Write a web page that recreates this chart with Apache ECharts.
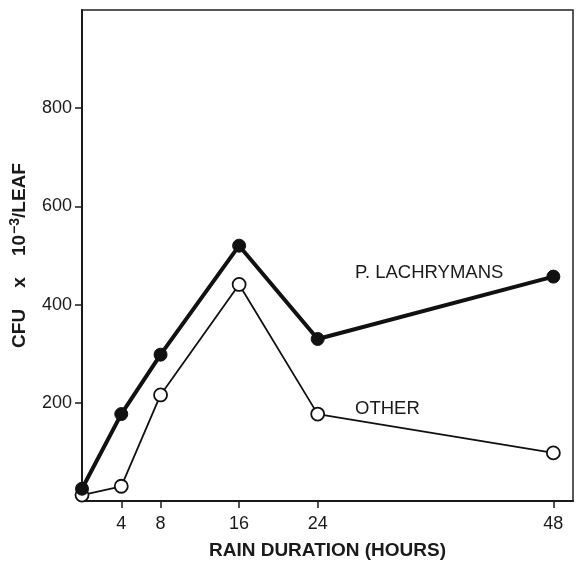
<!DOCTYPE html>
<html><head><meta charset="utf-8">
<script src="https://cdn.jsdelivr.net/npm/echarts@6/dist/echarts.min.js"></script>
<style>html,body{margin:0;padding:0;background:#fff}#c{width:576px;height:561px}</style>
</head><body><div id="c"></div>
<script>
const hours = [0, 4, 8, 16, 24, 48];
const lachrymans = [25, 177, 298, 520, 330, 457];
const other = [12, 30, 216, 441, 177, 98];
const xTicks = [4, 8, 16, 24, 48];
const yTicks = [200, 400, 600, 800];
const seriesNames = ['P. LACHRYMANS', 'OTHER'];

const font = '"Liberation Sans", Arial, sans-serif';
const ink = '#1a1a1a';
const chart = echarts.init(document.getElementById('c'));
chart.setOption({
  animation: false,
  grid: { left: 82, top: 10, right: 3, bottom: 60, containLabel: false, outerBoundsMode: 'none',
          show: true, borderColor: '#222', borderWidth: 1.5 },
  xAxis: {
    type: 'value', min: 0, max: 50,
    name: 'RAIN DURATION (HOURS)', nameLocation: 'middle', nameGap: 40,
    nameTextStyle: { fontFamily: font, fontWeight: 'bold', fontSize: 19, color: ink },
    axisLine: { lineStyle: { color: ink, width: 2 } },
    axisTick: { customValues: xTicks, length: 7, lineStyle: { color: ink, width: 1.5 } },
    axisLabel: { customValues: xTicks, fontFamily: font, fontSize: 18, color: ink, margin: 14 },
    splitLine: { show: false }
  },
  yAxis: {
    type: 'value', min: 0, max: 1000, interval: 200,
    name: '{a|CFU    x    10}{s|−3}{a|/LEAF}', nameLocation: 'middle', nameGap: 50, nameRotate: 90,
    nameTextStyle: { rich: {
      a: { fontFamily: font, fontWeight: 'bold', fontSize: 19, color: ink },
      s: { fontFamily: font, fontWeight: 'bold', fontSize: 14, color: ink, verticalAlign: 'top', padding: [0,0,10,1] }
    } },
    axisLine: { show: true, lineStyle: { color: ink, width: 2 } },
    axisTick: { customValues: yTicks, length: 7, lineStyle: { color: ink, width: 1.5 } },
    axisLabel: { customValues: yTicks, fontFamily: font, fontSize: 18, color: ink, margin: 10 },
    splitLine: { show: false }
  },
  series: [
    {
      name: seriesNames[0], type: 'line',
      data: hours.map((h, i) => [h, lachrymans[i]]),
      lineStyle: { color: '#111', width: 4 },
      symbol: 'circle', symbolSize: 13,
      itemStyle: { color: '#111', borderColor: '#111', borderWidth: 1 },
      z: 3
    },
    {
      name: seriesNames[1], type: 'line',
      data: hours.map((h, i) => [h, other[i]]),
      lineStyle: { color: '#111', width: 1.8 },
      symbol: 'circle', symbolSize: 13,
      itemStyle: { color: '#fff', borderColor: '#111', borderWidth: 1.8 },
      z: 2
    }
  ]
});
function placeLabels() {
  const p1 = chart.convertToPixel({ gridIndex: 0 }, [27.8, 465]);
  const p2 = chart.convertToPixel({ gridIndex: 0 }, [27.8, 188]);
  chart.setOption({ graphic: [
    { type: 'text', x: p1[0], y: p1[1], style: { text: seriesNames[0], font: '18.5px ' + font, fill: ink, verticalAlign: 'middle' } },
    { type: 'text', x: p2[0], y: p2[1], style: { text: seriesNames[1], font: '18.5px ' + font, fill: ink, verticalAlign: 'middle' } }
  ] });
}
placeLabels();
</script></body></html>
